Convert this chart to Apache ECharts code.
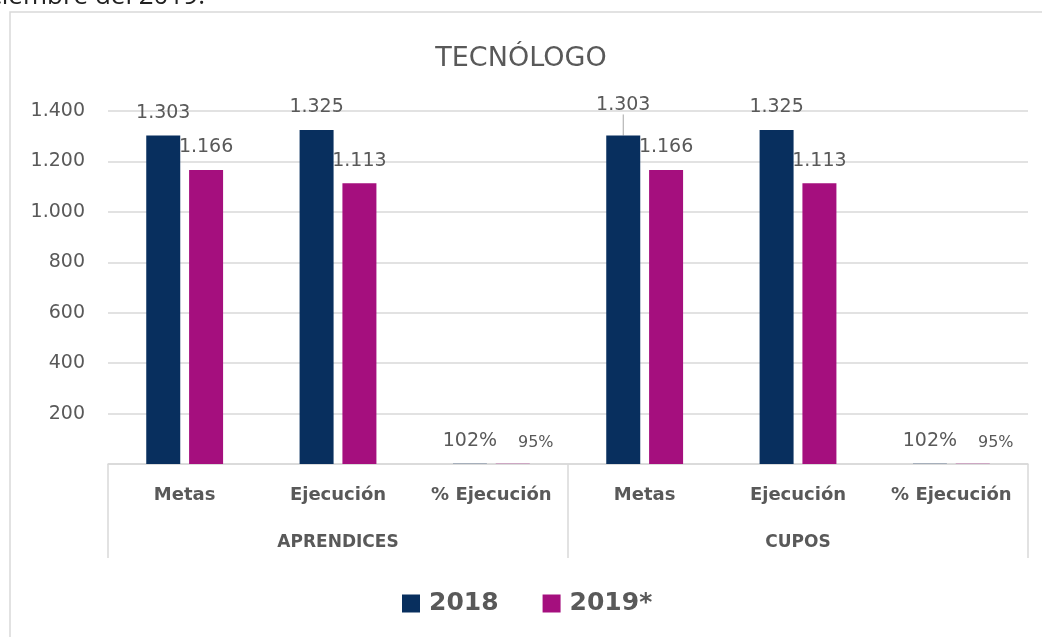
<!DOCTYPE html>
<html>
<head>
<meta charset="utf-8">
<script src="https://cdn.jsdelivr.net/npm/echarts@6/dist/echarts.min.js"></script>
<style>
  html, body { margin: 0; padding: 0; background: #fff; }
  #main { width: 1042px; height: 637px; }
</style>
</head>
<body>
<div id="main"></div>
<script>
const categories = ["Metas", "Ejecución", "% Ejecución", "Metas", "Ejecución", "% Ejecución"];
const groups = ["APRENDICES", "CUPOS"];
const values2018 = [1303, 1325, 1.02, 1303, 1325, 1.02];
const values2019 = [1166, 1113, 0.95, 1166, 1113, 0.95];
const seriesNames = ["2018", "2019*"];

const textColor = "#595959";
const lineColor = "#d9d9d9";
const font = "DejaVu Sans";

function fmtValue(p) {
  if (categories[p.dataIndex].charAt(0) === "%") {
    return Math.round(p.value * 100) + "%";
  }
  return p.value.toLocaleString("de-DE");
}

function barLabel() {
  return {
    show: true,
    position: "top",
    distance: 13,
    color: textColor,
    fontFamily: font,
    fontSize: 19,
    formatter: fmtValue
  };
}

function buildData(values, isSecond) {
  return values.map(function (v, i) {
    const item = { value: v };
    if (categories[i].charAt(0) === "%" && isSecond) {
      item.label = { fontSize: 16, offset: [23, 0] };
    }
    // the second "Metas" label in the 2018 series sits higher, with a leader line
    if (!isSecond && i === 3) {
      item.labelLine = { show: true, lineStyle: { color: "#a6a6a6" } };
    }
    return item;
  });
}

const options = {
  animation: false,
  title: {
    text: "TECNÓLOGO",
    left: "center",
    top: 40,
    textStyle: { color: textColor, fontFamily: font, fontWeight: "normal", fontSize: 27 }
  },
  legend: {
    bottom: 16,
    left: 397,
    icon: "rect",
    itemWidth: 18,
    itemHeight: 18,
    itemGap: 44,
    textStyle: { color: textColor, fontFamily: font, fontWeight: "bold", fontSize: 25, padding: [0, 0, 0, 4] },
    data: seriesNames
  },
  grid: { left: 108, right: 14, top: 111, bottom: 173, containLabel: false },
  xAxis: [
    {
      type: "category",
      data: categories,
      axisLine: { lineStyle: { color: lineColor, width: 1.5 } },
      axisTick: { show: false },
      axisLabel: {
        margin: 22,
        color: textColor,
        fontFamily: font,
        fontWeight: "bold",
        fontSize: 18,
        interval: 0
      }
    },
    {
      type: "category",
      position: "bottom",
      data: groups,
      axisLine: { show: false },
      axisTick: { show: true, length: 94, lineStyle: { color: lineColor, width: 1.5 } },
      axisLabel: {
        margin: 70,
        color: textColor,
        fontFamily: font,
        fontWeight: "bold",
        fontSize: 17
      }
    }
  ],
  yAxis: {
    type: "value",
    min: 0,
    max: 1400,
    interval: 200,
    axisLine: { show: false },
    axisTick: { show: false },
    splitLine: { lineStyle: { color: lineColor, width: 1.5 } },
    axisLabel: {
      margin: 23,
      color: textColor,
      fontFamily: font,
      fontSize: 19,
      formatter: function (v) { return v === 0 ? "" : v.toLocaleString("de-DE"); }
    }
  },
  series: [
    {
      name: seriesNames[0],
      type: "bar",
      xAxisIndex: 0,
      barWidth: 34,
      barGap: "26%",
      itemStyle: { color: "#082f5e" },
      label: barLabel(),
      labelLayout: function (p) {
        if (p.dataIndex === 3) return { dy: -8 };
        return {};
      },
      data: buildData(values2018, false)
    },
    {
      name: seriesNames[1],
      type: "bar",
      xAxisIndex: 0,
      barWidth: 34,
      itemStyle: { color: "#a50f7e" },
      label: barLabel(),
      data: buildData(values2019, true)
    }
  ],
  graphic: [
    {
      type: "rect",
      shape: { x: 10, y: 12, width: 1100, height: 700 },
      style: { fill: "none", stroke: lineColor, lineWidth: 1.5 },
      silent: true,
      z: -1
    },
    {
      type: "text",
      right: 837,
      top: -16,
      style: { text: "diciembre del 2019.", fill: "#222", font: "26px 'Open Sans'" },
      silent: true
    }
  ]
};

const myChart = echarts.init(document.getElementById("main"));
myChart.setOption(options);
</script>
</body>
</html>
